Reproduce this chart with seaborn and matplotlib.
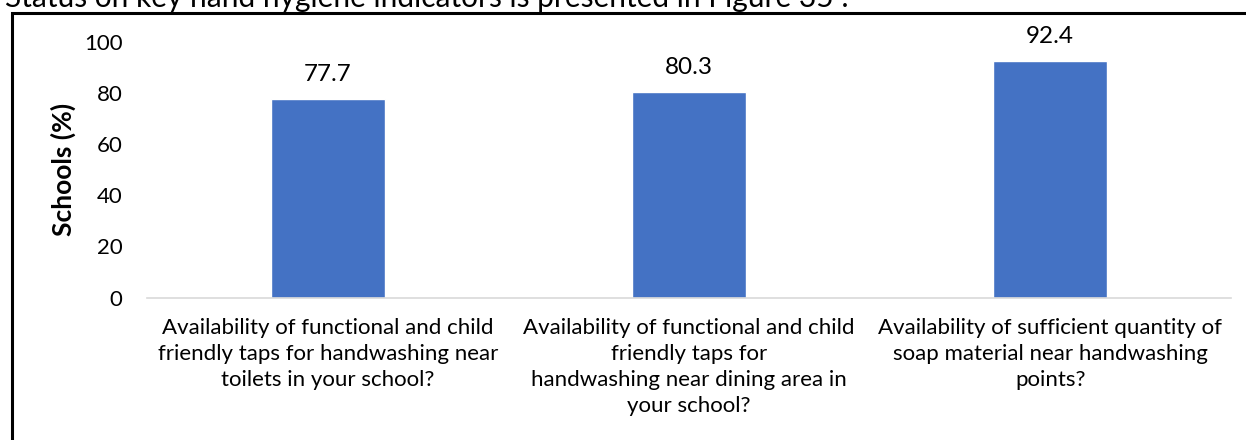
import matplotlib
matplotlib.use("Agg")
import matplotlib.pyplot as plt
import seaborn as sns
import pandas as pd
from matplotlib.patches import Rectangle

categories = [
    "Availability of functional and child\nfriendly taps for handwashing near\ntoilets in your school?",
    "Availability of functional and child\nfriendly taps for\nhandwashing near dining area in\nyour school?",
    "Availability of sufficient quantity of\nsoap material near handwashing\npoints?",
]
values = [77.7, 80.3, 92.4]
yticks = [0, 20, 40, 60, 80, 100]
ylabel = "Schools (%)"
caption = "Status on key hand hygiene indicators is presented in Figure 35 :"

sns.set_theme(style="white")
plt.rcParams['font.family'] = ['Lato', 'DejaVu Sans']

fig = plt.figure(figsize=(12.46, 4.4), dpi=100)
ax = fig.add_axes([147.5/1246, 1-297.5/440, (1230.7-147.5)/1246, (297.5-41.5)/440])

df = pd.DataFrame({"cat": categories, "val": values})
sns.barplot(data=df, x="cat", y="val", ax=ax, color="#4472C4", width=0.316, saturation=1)

ax.set_ylim(0, 100)
ax.set_yticks(yticks)
ax.set_yticklabels([str(t) for t in yticks], fontsize=16, color="#000000")
ax.tick_params(axis='y', length=0, pad=18)
ax.tick_params(axis='x', length=0, pad=15)
for lbl in ax.get_xticklabels():
    lbl.set_fontsize(16)
    lbl.set_linespacing(1.36)
    lbl.set_color("#000000")
ax.set_xlabel("")
ax.set_ylabel(ylabel, fontsize=19, fontweight='bold', color="#000000", labelpad=6)
for s in ["top", "right", "left"]:
    ax.spines[s].set_visible(False)
ax.spines["bottom"].set_color("#d9d9d9")
ax.spines["bottom"].set_linewidth(1.2)

for i, v in enumerate(values):
    ax.annotate(f"{v}", (i, v), xytext=(0, 10), textcoords="offset points",
                ha="center", va="bottom", fontsize=17.5, color="#000000")

fig.add_artist(Rectangle((11.5/1246, -0.1), 1.2, 1 - 13.5/440 + 0.1, transform=fig.transFigure,
                         fill=False, edgecolor="black", linewidth=2.2))
fig.text(5/1246, 1 - 7/440, caption, fontsize=21.5, color="#000000", va="baseline", ha="left")

fig.savefig("out.png", dpi=100)
